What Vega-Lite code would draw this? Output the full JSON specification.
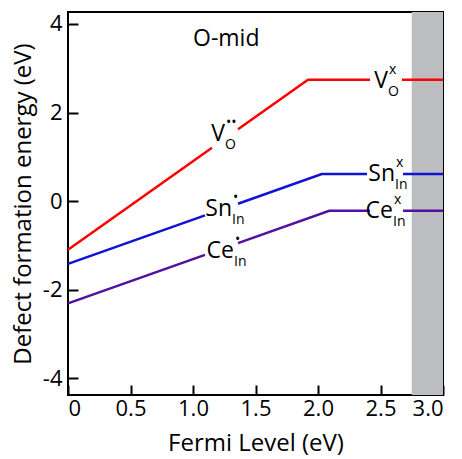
{
  "$schema": "https://vega.github.io/schema/vega-lite/v6.json",
  "width": 375,
  "height": 383,
  "autosize": "none",
  "padding": {"left": 68, "top": 12, "right": 19, "bottom": 64},
  "background": "white",
  "config": {
    "font": "Open Sans",
    "view": {"stroke": "black", "strokeWidth": 2},
    "axis": {
      "domain": false,
      "grid": false,
      "ticks": true,
      "tickColor": "black",
      "tickWidth": 2,
      "tickSize": -10,
      "labelFont": "Open Sans",
      "labelFontSize": 22,
      "labelColor": "black",
      "titleFont": "Open Sans",
      "titleFontSize": 24,
      "titleFontWeight": "normal",
      "titleColor": "black"
    }
  },
  "datasets": {
    "band": [{"x0": 2.75, "x1": 3.0}],
    "lines": [
      {"s": "VO", "g": "VO-a", "x": 0, "y": -1.1},
      {"s": "VO", "g": "VO-a", "x": 1.152, "y": 1.204},
      {"s": "VO", "g": "VO-b", "x": 1.36, "y": 1.62},
      {"s": "VO", "g": "VO-b", "x": 1.92, "y": 2.74},
      {"s": "VO", "g": "VO-b", "x": 2.416, "y": 2.74},
      {"s": "VO", "g": "VO-c", "x": 2.672, "y": 2.74},
      {"s": "VO", "g": "VO-c", "x": 3.0, "y": 2.74},
      {"s": "Sn", "g": "Sn-a", "x": 0, "y": -1.42},
      {"s": "Sn", "g": "Sn-a", "x": 1.096, "y": -0.324},
      {"s": "Sn", "g": "Sn-b", "x": 1.36, "y": -0.06},
      {"s": "Sn", "g": "Sn-b", "x": 2.03, "y": 0.61},
      {"s": "Sn", "g": "Sn-b", "x": 2.392, "y": 0.61},
      {"s": "Sn", "g": "Sn-c", "x": 2.68, "y": 0.61},
      {"s": "Sn", "g": "Sn-c", "x": 3.0, "y": 0.61},
      {"s": "Ce", "g": "Ce-a", "x": 0, "y": -2.31},
      {"s": "Ce", "g": "Ce-a", "x": 1.096, "y": -1.214},
      {"s": "Ce", "g": "Ce-b", "x": 1.36, "y": -0.95},
      {"s": "Ce", "g": "Ce-b", "x": 2.09, "y": -0.22},
      {"s": "Ce", "g": "Ce-b", "x": 2.416, "y": -0.22},
      {"s": "Ce", "g": "Ce-c", "x": 2.68, "y": -0.22},
      {"s": "Ce", "g": "Ce-c", "x": 3.0, "y": -0.22}
    ],
    "labels": [
      {"x": 1.256, "y": 1.35, "t": "V", "p": "main"},
      {"x": 1.256, "y": 1.35, "t": "••", "p": "sup"},
      {"x": 1.256, "y": 1.35, "t": "O", "p": "sub"},
      {"x": 2.56, "y": 2.55, "t": "V", "p": "main"},
      {"x": 2.56, "y": 2.55, "t": "x", "p": "sup"},
      {"x": 2.56, "y": 2.55, "t": "O", "p": "sub"},
      {"x": 2.616, "y": 0.45, "t": "Sn", "p": "main"},
      {"x": 2.616, "y": 0.45, "t": "x", "p": "sup"},
      {"x": 2.616, "y": 0.45, "t": "In", "p": "sub"},
      {"x": 2.6, "y": -0.377, "t": "Ce", "p": "main"},
      {"x": 2.6, "y": -0.377, "t": "x", "p": "sup"},
      {"x": 2.6, "y": -0.377, "t": "In", "p": "sub"},
      {"x": 1.312, "y": -0.339, "t": "Sn", "p": "main"},
      {"x": 1.312, "y": -0.339, "t": "•", "p": "sup"},
      {"x": 1.312, "y": -0.339, "t": "In", "p": "sub"},
      {"x": 1.328, "y": -1.28, "t": "Ce", "p": "main"},
      {"x": 1.328, "y": -1.28, "t": "•", "p": "sup"},
      {"x": 1.328, "y": -1.28, "t": "In", "p": "sub"}
    ],
    "title": [{"x": 1.0, "y": 3.5, "t": "O-mid"}]
  },
  "layer": [
    {
      "data": {"name": "band"},
      "mark": {"type": "rect", "color": "#bcbdc0"},
      "encoding": {
        "x": {
          "field": "x0", "type": "quantitative",
          "scale": {"domain": [0, 3], "nice": false, "zero": false},
          "axis": {
            "values": [0, 0.5, 1, 1.5, 2, 2.5, 3],
            "labelExpr": "datum.value == 0 ? '0' : format(datum.value, '.1f')",
            "labelPadding": 13,
            "title": "Fermi Level (eV)",
            "titlePadding": 12
          }
        },
        "x2": {"field": "x1"}
      }
    },
    {
      "data": {"name": "lines"},
      "mark": {"type": "line", "strokeWidth": 2.5},
      "encoding": {
        "x": {"field": "x", "type": "quantitative"},
        "y": {
          "field": "y", "type": "quantitative",
          "scale": {"domain": [-4.38, 4.27], "nice": false, "zero": false},
          "axis": {
            "values": [-4, -2, 0, 2, 4],
            "labelExpr": "datum.value < 0 ? '-' + abs(datum.value) : datum.label",
            "labelPadding": 16,
            "title": "Defect formation energy (eV)",
            "titlePadding": 7
          }
        },
        "detail": {"field": "g"},
        "color": {
          "field": "s", "type": "nominal",
          "scale": {"domain": ["VO", "Sn", "Ce"], "range": ["#ff0000", "#1212d4", "#5210a0"]},
          "legend": null
        }
      }
    },
    {
      "data": {"name": "labels"},
      "transform": [{"filter": "datum.p == 'main'"}],
      "mark": {"type": "text", "align": "right", "baseline": "alphabetic", "fontSize": 23, "color": "black"},
      "encoding": {
        "x": {"field": "x", "type": "quantitative"},
        "y": {"field": "y", "type": "quantitative"},
        "text": {"field": "t"}
      }
    },
    {
      "data": {"name": "labels"},
      "transform": [{"filter": "datum.p == 'sup'"}],
      "mark": {"type": "text", "align": "left", "baseline": "alphabetic", "fontSize": 14, "dx": 1, "dy": -14, "color": "black"},
      "encoding": {
        "x": {"field": "x", "type": "quantitative"},
        "y": {"field": "y", "type": "quantitative"},
        "text": {"field": "t"}
      }
    },
    {
      "data": {"name": "labels"},
      "transform": [{"filter": "datum.p == 'sub'"}],
      "mark": {"type": "text", "align": "left", "baseline": "alphabetic", "fontSize": 14, "dx": 0, "dy": 8, "color": "black"},
      "encoding": {
        "x": {"field": "x", "type": "quantitative"},
        "y": {"field": "y", "type": "quantitative"},
        "text": {"field": "t"}
      }
    },
    {
      "data": {"name": "title"},
      "mark": {"type": "text", "align": "left", "baseline": "alphabetic", "fontSize": 23, "color": "black"},
      "encoding": {
        "x": {"field": "x", "type": "quantitative"},
        "y": {"field": "y", "type": "quantitative"},
        "text": {"field": "t"}
      }
    }
  ]
}
